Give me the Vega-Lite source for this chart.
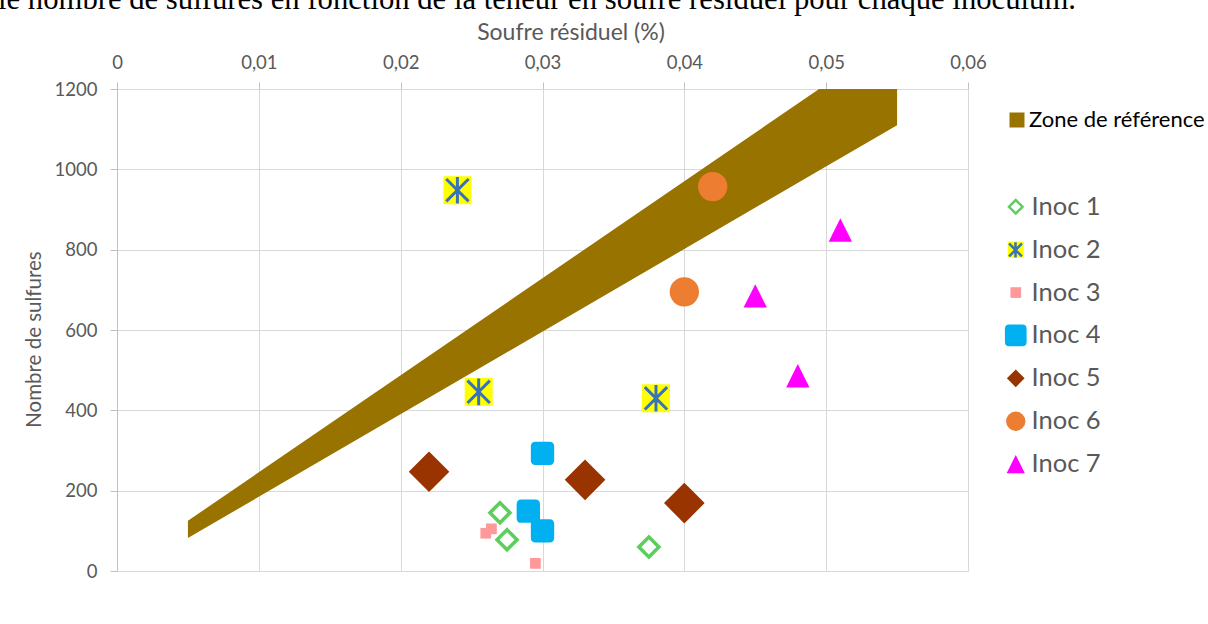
{
  "$schema": "https://vega.github.io/schema/vega-lite/v6.json",
  "width": 851,
  "height": 482,
  "autosize": {"type": "none"},
  "padding": {"left": 117, "top": 89, "right": 240, "bottom": 53},
  "background": "white",
  "title": {
    "text": "le nombre de sulfures en fonction de la teneur en soufre résiduel pour chaque inoculum.",
    "anchor": "start",
    "frame": "group",
    "font": "Liberation Serif",
    "fontSize": 30.7,
    "fontWeight": "normal",
    "color": "#000000",
    "baseline": "alphabetic",
    "offset": 0,
    "dx": -119,
    "dy": 19
  },
  "datasets": {
    "zone": [
      {"soufre": 0.005, "bas": 82, "haut": 125, "zone": "Zone de référence"},
      {"soufre": 0.0495, "bas": 997, "haut": 1200, "zone": "Zone de référence"},
      {"soufre": 0.055, "bas": 1110, "haut": 1200, "zone": "Zone de référence"}
    ],
    "points": [
      {"serie": "Inoc 1", "soufre": 0.027, "sulfures": 145},
      {"serie": "Inoc 1", "soufre": 0.0275, "sulfures": 78},
      {"serie": "Inoc 1", "soufre": 0.0375, "sulfures": 60},
      {"serie": "Inoc 2", "soufre": 0.024, "sulfures": 948},
      {"serie": "Inoc 2", "soufre": 0.0255, "sulfures": 446},
      {"serie": "Inoc 2", "soufre": 0.038, "sulfures": 430},
      {"serie": "Inoc 3", "soufre": 0.026, "sulfures": 94},
      {"serie": "Inoc 3", "soufre": 0.0264, "sulfures": 105},
      {"serie": "Inoc 3", "soufre": 0.0295, "sulfures": 19},
      {"serie": "Inoc 4", "soufre": 0.030, "sulfures": 293},
      {"serie": "Inoc 4", "soufre": 0.029, "sulfures": 149},
      {"serie": "Inoc 4", "soufre": 0.030, "sulfures": 100},
      {"serie": "Inoc 5", "soufre": 0.022, "sulfures": 247},
      {"serie": "Inoc 5", "soufre": 0.033, "sulfures": 227},
      {"serie": "Inoc 5", "soufre": 0.040, "sulfures": 169},
      {"serie": "Inoc 6", "soufre": 0.042, "sulfures": 957},
      {"serie": "Inoc 6", "soufre": 0.040, "sulfures": 695},
      {"serie": "Inoc 7", "soufre": 0.051, "sulfures": 849},
      {"serie": "Inoc 7", "soufre": 0.045, "sulfures": 685},
      {"serie": "Inoc 7", "soufre": 0.048, "sulfures": 486}
    ]
  },
  "config": {
    "font": "Lato",
    "view": {"stroke": null},
    "axis": {
      "labelFont": "Lato",
      "labelFontSize": 18.5,
      "labelColor": "#595959",
      "labelFlush": false,
      "titleFont": "Lato",
      "titleFontWeight": "normal",
      "titleColor": "#595959",
      "gridColor": "#d9d9d9",
      "gridWidth": 1,
      "domainColor": "#bfbfbf",
      "tickColor": "#bfbfbf",
      "tickSize": 7
    },
    "legend": {"labelFont": "Lato", "titleFont": "Lato", "padding": 0, "labelLimit": 400}
  },
  "layer": [
    {
      "data": {"name": "zone"},
      "mark": {"type": "area", "opacity": 1},
      "encoding": {
        "x": {
          "field": "soufre", "type": "quantitative",
          "scale": {"domain": [0, 0.06], "nice": false, "zero": false},
          "axis": {
            "orient": "top", "title": "Soufre résiduel (%)",
            "values": [0, 0.01, 0.02, 0.03, 0.04, 0.05, 0.06],
            "labelExpr": "datum.value === 0 ? '0' : replace(format(datum.value, '.2f'), '.', ',')",
            "labelPadding": 10, "titlePadding": 9, "titleFontSize": 23, "titleX": 453.5,
            "domainColor": "#d9d9d9"
          }
        },
        "y": {
          "field": "bas", "type": "quantitative",
          "scale": {"domain": [0, 1200], "nice": false},
          "axis": {
            "title": "Nombre de sulfures",
            "values": [0, 200, 400, 600, 800, 1000, 1200],
            "format": "d",
            "labelPadding": 13, "titlePadding": 10, "titleFontSize": 20.5, "titleY": 250
          }
        },
        "y2": {"field": "haut"},
        "fill": {
          "field": "zone", "type": "nominal",
          "scale": {"range": ["#997300"]},
          "legend": {
            "orient": "none", "legendX": 889, "legendY": 20, "title": null,
            "symbolType": "square", "symbolSize": 225, "symbolStrokeWidth": 0,
            "labelFontSize": 22, "labelColor": "#000000", "labelOffset": 1
          }
        }
      }
    },
    {
      "data": {"name": "points"},
      "mark": {"type": "point", "filled": true, "opacity": 1, "strokeWidth": 0},
      "encoding": {
        "x": {"field": "soufre", "type": "quantitative"},
        "y": {"field": "sulfures", "type": "quantitative", "title": "Nombre de sulfures"},
        "shape": {
          "field": "serie", "type": "nominal",
          "scale": {
            "domain": ["Inoc 1", "Inoc 2", "Inoc 3", "Inoc 4", "Inoc 5", "Inoc 6", "Inoc 7"],
            "range": ["M0,-1L1,0L0,1L-1,0ZM0,-0.6L-0.6,0L0,0.6L0.6,0Z", "square", "square", "M-0.6,-1L0.6,-1Q1,-1,1,-0.6L1,0.6Q1,1,0.6,1L-0.6,1Q-1,1,-1,0.6L-1,-0.6Q-1,-1,-0.6,-1Z", "diamond", "circle", "M0,-1L1,1L-1,1Z"]
          },
          "legend": {
            "orient": "none", "legendX": 886, "legendY": 105, "title": null,
            "labelFontSize": 25.5, "labelColor": "#595959", "labelOffset": 3,
            "rowPadding": 15.9, "symbolStrokeWidth": 0,
            "symbolSize": {"expr": "datum.value === 'Inoc 1' ? 289 : datum.value === 'Inoc 2' ? 256 : datum.value === 'Inoc 3' ? 114 : datum.value === 'Inoc 4' ? 470 : datum.value === 'Inoc 5' ? 313 : datum.value === 'Inoc 6' ? 372 : 335"}
          }
        },
        "color": {
          "field": "serie", "type": "nominal",
          "scale": {
            "domain": ["Inoc 1", "Inoc 2", "Inoc 3", "Inoc 4", "Inoc 5", "Inoc 6", "Inoc 7"],
            "range": ["#5dce5d", "#ffff00", "#ff9999", "#00b0f0", "#993300", "#ed7d31", "#ff00ff"]
          },
          "legend": {
            "orient": "none", "legendX": 886, "legendY": 105, "title": null,
            "labelFontSize": 25.5, "labelColor": "#595959", "labelOffset": 3,
            "rowPadding": 15.9, "symbolStrokeWidth": 0,
            "symbolSize": {"expr": "datum.value === 'Inoc 1' ? 289 : datum.value === 'Inoc 2' ? 256 : datum.value === 'Inoc 3' ? 114 : datum.value === 'Inoc 4' ? 470 : datum.value === 'Inoc 5' ? 313 : datum.value === 'Inoc 6' ? 372 : 335"}
          }
        },
        "size": {
          "field": "serie", "type": "nominal",
          "scale": {
            "type": "ordinal",
            "domain": ["Inoc 7", "Inoc 6", "Inoc 5", "Inoc 4", "Inoc 3", "Inoc 2", "Inoc 1"],
            "range": [545, 860, 1650, 545, 115, 784, 625]
          },
          "legend": null
        }
      }
    },
    {
      "data": {"name": "points"},
      "transform": [{"filter": "datum.serie === 'Inoc 2'"}],
      "mark": {"type": "point", "filled": false, "strokeWidth": 3, "opacity": 1, "size": 784,
               "shape": "M0,-0.95L0,0.95M-0.8,-0.8L0.8,0.8M-0.8,0.8L0.8,-0.8"},
      "encoding": {
        "x": {"field": "soufre", "type": "quantitative"},
        "y": {"field": "sulfures", "type": "quantitative", "title": "Nombre de sulfures"},
        "stroke": {
          "field": "serie", "type": "nominal",
          "scale": {"domain": ["Inoc 2"], "range": ["#3a72b8"]},
          "legend": {
            "orient": "none", "legendX": 889, "legendY": 151.4, "title": null,
            "labelExpr": "''", "symbolSize": 256, "symbolStrokeWidth": 2.5,
            "symbolType": "M0,-0.95L0,0.95M-0.8,-0.8L0.8,0.8M-0.8,0.8L0.8,-0.8"
          }
        }
      }
    }
  ]
}
